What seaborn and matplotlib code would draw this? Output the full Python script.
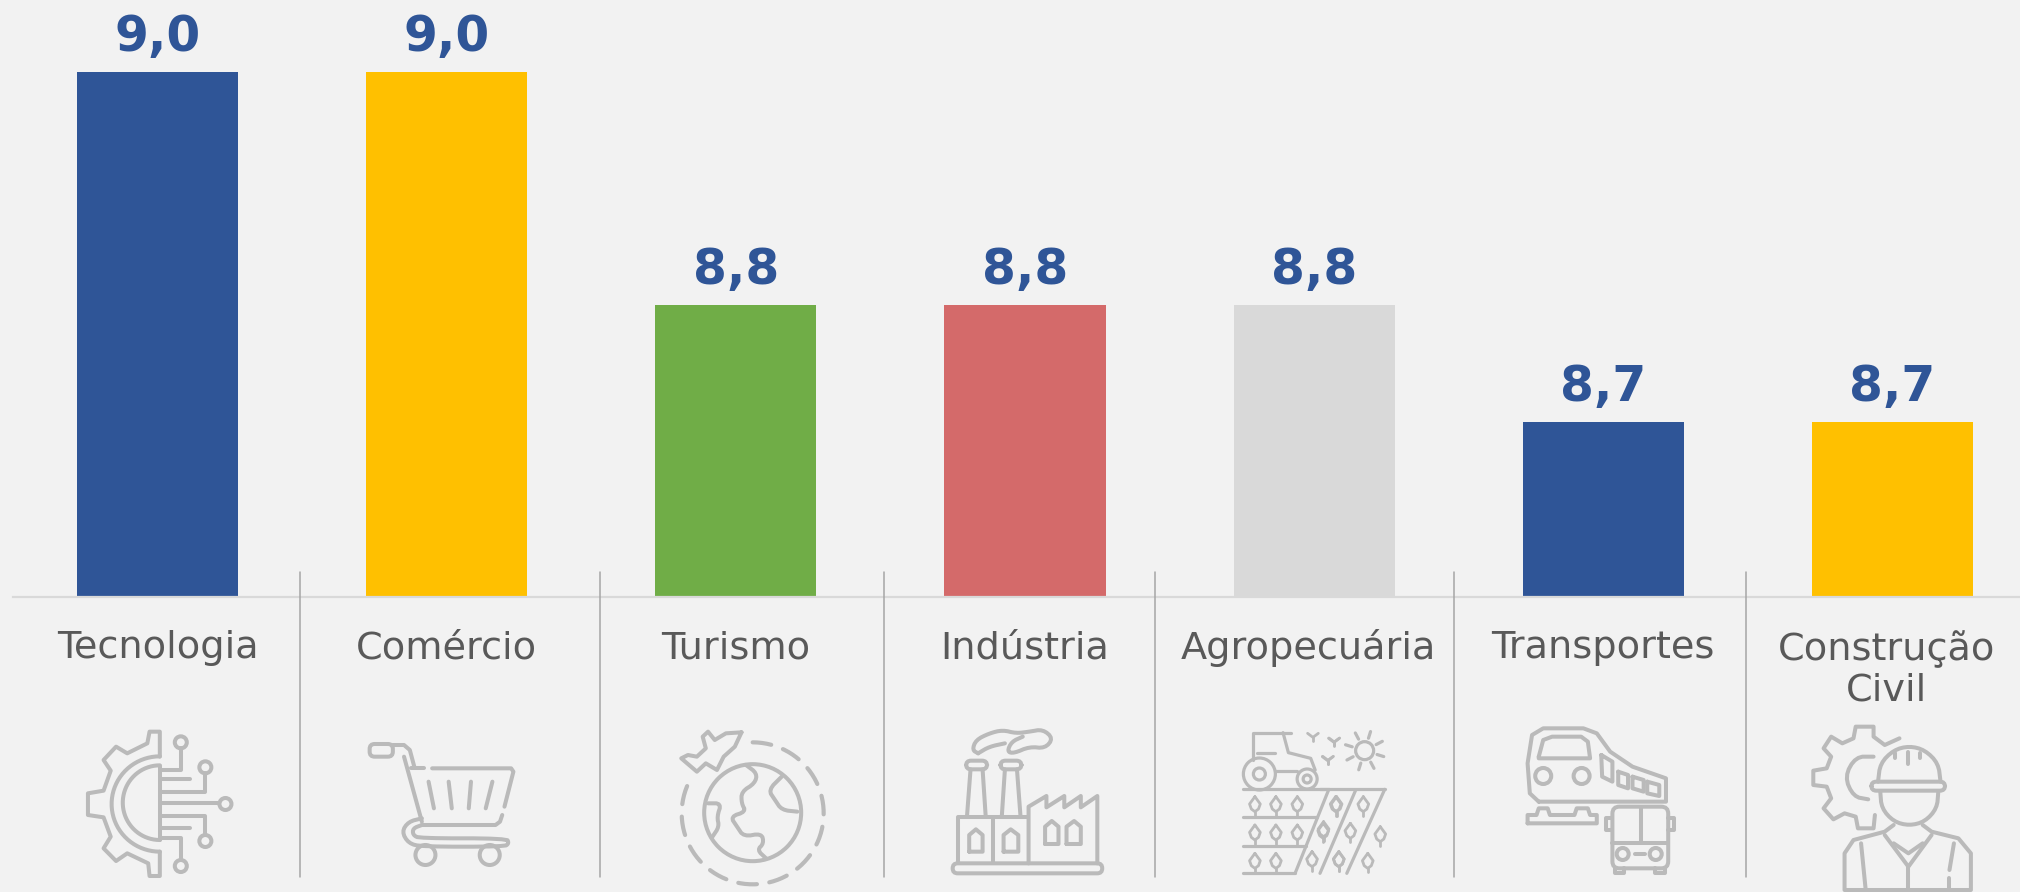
import numpy as np
import matplotlib
matplotlib.use('Agg')
import matplotlib.pyplot as plt
from matplotlib.patches import Ellipse, FancyBboxPatch
from matplotlib.transforms import ScaledTranslation
import seaborn as sns

# dados do grafico
categorias = ['Tecnologia', 'Comércio', 'Turismo', 'Indústria', 'Agropecuária', 'Transportes', 'Construção\nCivil']
valores = [9.0, 9.0, 8.8, 8.8, 8.8, 8.7, 8.7]
cores = ['#2F5597', '#FFC000', '#70AD47', '#D46A6A', '#D9D9D9', '#2F5597', '#FFC000']

FUNDO = '#F2F2F2'
AZUL = '#2F5597'
TEXTO = '#595959'
ICONE = '#BABABA'
SEP = '#A6A6A6'

sns.set_theme(style='white')
plt.rcParams['font.family'] = ['DejaVu Sans']

W, H = 2020, 892
fig = plt.figure(figsize=(W / 100, H / 100), dpi=100, facecolor=FUNDO)

# o eixo comeca em x=13 e passa um pouco da borda direita
ax = fig.add_axes([13 / W, (H - 597) / H, 2024 / W, 597 / H], facecolor=FUNDO)
sns.barplot(x=categorias, y=valores, hue=categorias, palette=cores, width=0.557,
            saturation=1, legend=False, linewidth=0, ax=ax)
ax.set_xlim(-0.5, 6.5)
ax.set_ylim(8.55, 9.062)
ax.set_yticks([])
ax.set_xlabel('')
ax.set_ylabel('')
sns.despine(ax=ax, left=True)
ax.spines['bottom'].set_color('#D9D9D9')
ax.spines['bottom'].set_linewidth(1.6)
ax.tick_params(axis='x', length=0, pad=24, labelsize=27.5, labelcolor=TEXTO)

for lab in ax.get_xticklabels():
    lab.set_linespacing(1.17)


def desloca(lab, dx, dy=0):
    lab.set_transform(lab.get_transform() + ScaledTranslation(dx / 100, dy / 100, fig.dpi_scale_trans))


# alguns rotulos nao ficam centrados na barra
desloca(ax.get_xticklabels()[4], -6, 1)
desloca(ax.get_xticklabels()[6], -6)

# rotulos com virgula decimal
for cont in ax.containers:
    ax.bar_label(cont, labels=[f'{v:.1f}'.replace('.', ',') for v in cont.datavalues],
                 padding=8, fontsize=35, fontweight='bold', color=AZUL)

# camada em pixels para separadores e icones
cam = fig.add_axes([0, 0, 1, 1], facecolor='none')
cam.set_xlim(0, W)
cam.set_ylim(H, 0)
cam.axis('off')

for x in [300, 600, 884, 1155, 1454, 1746]:
    cam.plot([x, x], [572, 877], color=SEP, lw=1.1)


# os icones foram medidos nos recortes: x/2.24 + origem, y/3 + 560
def px(ox, pts):
    a = np.array(pts, dtype=float)
    return ox + a[:, 0] / 2.24, 560 + a[:, 1] / 3


def suave(x, y, n=2):
    for _ in range(n):
        x = np.r_[x[0], np.c_[0.75 * x[:-1] + 0.25 * x[1:], 0.25 * x[:-1] + 0.75 * x[1:]].ravel(), x[-1]]
        y = np.r_[y[0], np.c_[0.75 * y[:-1] + 0.25 * y[1:], 0.25 * y[:-1] + 0.75 * y[1:]].ravel(), y[-1]]
    return x, y


def linha(ox, pts, lw=2.9, curva=False, **kw):
    x, y = px(ox, pts)
    if curva:
        x, y = suave(x, y)
    cam.plot(x, y, color=ICONE, lw=lw, solid_capstyle='round', solid_joinstyle='round', **kw)


def elipse(ox, cx, cy, r, lw=2.9):
    x, y = px(ox, [(cx, cy)])
    cam.add_patch(Ellipse((x[0], y[0]), 2 * r, 2 * r, fill=False, ec=ICONE, lw=lw))


def caixa(ox, x0, y0, x1, y1, lw=2.9, rad=5):
    x, y = px(ox, [(x0, y0), (x1, y1)])
    cam.add_patch(FancyBboxPatch((x[0], y[0]), x[1] - x[0], y[1] - y[0], fill=False, ec=ICONE, lw=lw,
                                 boxstyle=f'round,pad=0,rounding_size={rad}'))


# tecnologia
linha(0, [(358, 590), (358, 515), (335, 515), (330, 550), (285, 580), (260, 560), (232, 600), (248, 632),
          (232, 692), (197, 700), (197, 765), (232, 772), (248, 830), (232, 865), (260, 903), (285, 880),
          (332, 910), (335, 948), (358, 948), (358, 875)])
t = np.linspace(np.pi / 2, 3 * np.pi / 2, 40)
linha(0, np.c_[358 + 108 * np.cos(t), 732 - 143 * np.sin(t)])
linha(0, np.c_[358 + 83 * np.cos(t), 728 - 112 * np.sin(t)])
linha(0, [(358, 617), (358, 840)])
for trilha, no in [([(360, 630), (405, 630), (405, 565)], (405, 547)),
                   ([(360, 695), (460, 695), (460, 640)], (460, 622)),
                   ([(360, 730), (490, 730)], (505, 732)),
                   ([(360, 767), (460, 767), (460, 825)], (460, 843)),
                   ([(360, 833), (405, 833), (405, 900)], (405, 918))]:
    linha(0, trilha)
    elipse(0, no[0], no[1], 6)
linha(0, [(360, 658), (425, 658)])
linha(0, [(360, 805), (425, 805)])

# comercio
caixa(0, 828, 552, 880, 590)
linha(0, [(880, 555), (905, 555), (918, 570), (928, 620)])
linha(0, [(905, 590), (945, 785)])
linha(0, [(920, 625), (950, 625)])
linha(0, [(968, 625), (1145, 625), (1150, 635), (1130, 740)])
for s in [[(960, 665), (972, 745)], [(1005, 665), (1012, 745)], [(1055, 665), (1050, 745)], [(1103, 665), (1088, 745)]]:
    linha(0, s)
linha(0, [(945, 795), (1110, 795), (1120, 785), (1125, 765)])
linha(0, [(945, 775), (915, 785), (900, 815), (915, 850), (945, 860), (1130, 860), (1140, 850), (1135, 835),
          (940, 835), (925, 825), (925, 805), (945, 795)], curva=True)
elipse(0, 953, 885, 10)
elipse(0, 1097, 885, 10)

# turismo
elipse(650, 230, 758, 48.5)
t = np.linspace(np.pi / 2, -7 * np.pi / 6, 80)
xg, yg = px(650, [(230, 760)])
cam.plot(xg[0] + 71 * np.cos(t), yg[0] - 71 * np.sin(t), color=ICONE, lw=3, dashes=(4.5, 3), dash_capstyle='round')
linha(650, [(215, 615), (240, 640), (235, 670), (205, 695), (205, 730), (215, 755), (180, 770), (195, 800),
            (210, 830), (250, 820), (255, 850), (240, 870), (260, 895)], curva=True)
linha(650, [(130, 730), (160, 730), (150, 770), (155, 800), (140, 830)], curva=True)
linha(650, [(295, 650), (265, 690), (280, 720), (295, 750), (330, 755)], curva=True)
linha(650, [(205, 517), (170, 520), (145, 540), (130, 515), (118, 530), (125, 565), (105, 590), (85, 585),
            (70, 595), (105, 635), (125, 610), (150, 630), (165, 590), (190, 560), (205, 517)])

# industria
caixa(650, 678, 910, 1013, 940)
linha(650, [(690, 910), (690, 772), (845, 772)])
linha(650, [(768, 772), (768, 910)])
linha(650, [(848, 910), (848, 740), (888, 708), (888, 742), (928, 708), (928, 742), (965, 708), (965, 742),
            (1002, 708), (1002, 910)])
linha(650, [(710, 770), (718, 628)])
linha(650, [(745, 628), (752, 770)])
linha(650, [(788, 770), (795, 628)])
linha(650, [(822, 628), (830, 770)])
caixa(650, 708, 602, 755, 628)
caixa(650, 785, 602, 832, 628)
for a, b, c, y0, y1 in [(715, 730, 745, 825, 875), (792, 808, 825, 825, 875), (885, 900, 915, 800, 852), (933, 950, 965, 800, 852)]:
    linha(650, [(a, y1), (a, y0), (b, y0 - 17), (c, y0), (c, y1), (a, y1)])
linha(650, [(735, 580), (722, 570), (730, 540), (760, 520), (790, 510), (820, 520), (850, 515), (880, 508),
            (903, 535), (885, 565), (850, 560), (815, 580), (800, 575), (810, 545), (835, 530)], curva=True)
linha(650, [(735, 580), (760, 560), (795, 550)], curva=True)

# agropecuaria
elipse(650, 1365, 642, 16, lw=2.3)
elipse(650, 1365, 642, 6, lw=2.3)
elipse(650, 1472, 657, 10, lw=2.3)
elipse(650, 1472, 657, 4, lw=2.3)
linha(650, [(1350, 600), (1350, 518), (1435, 518)], lw=2.3)
linha(650, [(1418, 518), (1430, 578), (1480, 595), (1490, 630)], lw=2.3)
linha(650, [(1360, 578), (1400, 578)], lw=2.3)
linha(650, [(1400, 632), (1450, 632)], lw=2.3)
fim = [(1328, 772), (1328, 857), (1328, 940)]
ate = [1495, 1470, 1445]
linha(650, [(1328, 688), (1520, 688)], lw=2.3)
linha(1320, [(0, 688), (145, 688)], lw=2.3)
linha(650, [(1520, 690), (1445, 940)], lw=2.3)
linha(1320, [(80, 690), (0, 940)], lw=2.3)
linha(1320, [(145, 688), (60, 940)], lw=2.3)
for (x0, y0), x1 in zip(fim, ate):
    linha(650, [(x0, y0), (x1, y0)], lw=2.3)


def arvore(ox, x, y):
    linha(ox, [(x, y - 25), (x - 12, y - 3), (x - 8, y + 12), (x, y + 20), (x + 8, y + 12), (x + 12, y - 3), (x, y - 25)], lw=2)
    linha(ox, [(x, y + 20), (x, y + 32)], lw=2)


for x, y in [(1355, 735), (1402, 735), (1450, 735), (1355, 820), (1402, 820), (1450, 820), (1355, 905), (1402, 905),
             (1538, 735), (1508, 815), (1483, 900), (1543, 900)]:
    arvore(650, x, y)
for x, y in [(35, 735), (97, 735), (8, 810), (68, 815), (135, 825), (42, 900), (107, 905)]:
    arvore(1320, x, y)
for ox, x, y in [(650, 1485, 528), (650, 1532, 543), (650, 1518, 598), (1320, 32, 542), (1320, 18, 597)]:
    linha(ox, [(x - 12, y - 8), (x, y + 4), (x + 12, y - 8)], lw=2)
    linha(ox, [(x, y + 4), (x, y + 14)], lw=2)
elipse(1320, 100, 572, 9, lw=2.3)
for ang in np.arange(0, 2 * np.pi, np.pi / 4):
    xs, ys = px(1320, [(100, 572)])
    cam.plot(xs[0] + np.array([13, 20]) * np.cos(ang + 0.3), ys[0] + np.array([13, 20]) * np.sin(ang + 0.3),
             color=ICONE, lw=2.3, solid_capstyle='round')

# transportes
linha(1320, [(490, 725), (470, 700), (465, 610), (475, 525), (500, 505), (590, 505), (620, 520), (650, 575),
             (700, 620), (775, 655), (775, 725), (490, 725)])
linha(1320, [(490, 590), (500, 540), (520, 530), (585, 530), (600, 545), (605, 595), (490, 595), (490, 590)])
elipse(1320, 500, 648, 8)
elipse(1320, 586, 648, 8)
for q in [[(630, 585), (655, 605), (655, 665), (632, 650)], [(668, 635), (690, 645), (690, 685), (668, 675)],
          [(700, 650), (725, 660), (725, 695), (700, 685)], [(733, 665), (760, 675), (760, 708), (733, 700)]]:
    linha(1320, q + q[:1])
linha(1320, [(465, 790), (465, 765), (485, 765), (490, 745), (510, 745), (515, 765), (570, 765), (575, 745),
             (600, 745), (605, 765), (620, 765), (620, 790), (465, 790)])
caixa(1320, 655, 740, 780, 925, rad=7)
linha(1320, [(718, 745), (718, 850)])
linha(1320, [(655, 850), (780, 850)])
elipse(1320, 678, 882, 6)
elipse(1320, 752, 882, 6)
linha(1320, [(705, 882), (728, 882)])
linha(1320, [(655, 775), (640, 775), (640, 810), (655, 810)])
linha(1320, [(780, 775), (792, 775), (792, 810), (780, 810)])
linha(1320, [(660, 925), (660, 940), (680, 940), (680, 925)])
linha(1320, [(750, 925), (750, 940), (772, 940), (772, 925)])

# construcao civil
linha(1320, [(1298, 535), (1265, 555), (1240, 530), (1240, 500), (1200, 500), (1195, 535), (1170, 550), (1145, 530),
             (1128, 565), (1145, 590), (1135, 625), (1105, 632), (1105, 675), (1135, 680), (1145, 715), (1128, 745),
             (1150, 778), (1175, 760), (1200, 770), (1205, 805), (1240, 805), (1243, 765)])
linha(1320, [(1240, 590), (1200, 590), (1175, 650), (1195, 710), (1228, 718)], curva=True)
linha(1320, [(1250, 665), (1255, 610), (1285, 570), (1320, 558), (1355, 570), (1385, 610), (1390, 665)], curva=True)
caixa(1320, 1235, 665, 1400, 692, rad=5)
linha(1320, [(1318, 575), (1318, 612)])
linha(1320, [(1288, 580), (1288, 595)])
linha(1320, [(1345, 580), (1345, 595)])
linha(1320, [(1255, 695), (1258, 745), (1285, 785), (1320, 797), (1355, 785), (1382, 745), (1385, 695)], curva=True)
linha(1320, [(1285, 795), (1265, 815), (1195, 840), (1175, 880), (1175, 990), (1458, 990), (1458, 880), (1430, 835),
             (1370, 815), (1350, 795)])
linha(1320, [(1265, 825), (1318, 920), (1370, 825)])
linha(1320, [(1285, 850), (1318, 880), (1350, 850)])
linha(1320, [(1318, 920), (1318, 990)])
linha(1320, [(1212, 850), (1222, 985)])
linha(1320, [(1420, 850), (1410, 930)])
linha(1320, [(1410, 955), (1410, 985)])

fig.savefig('out.png', dpi=100, facecolor=FUNDO)
